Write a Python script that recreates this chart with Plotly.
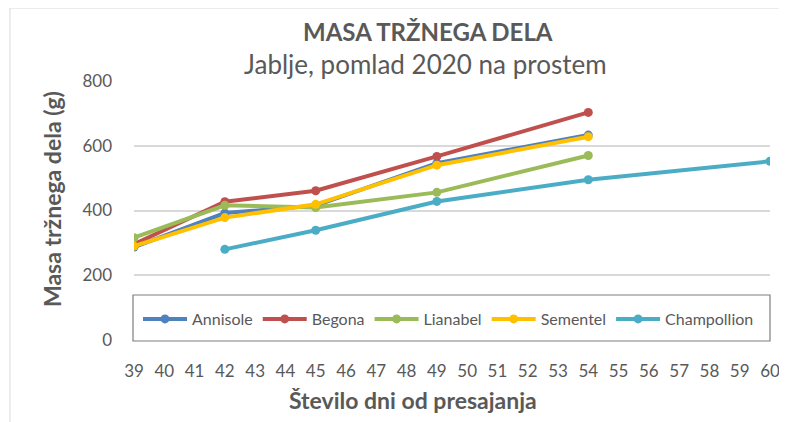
import plotly.graph_objects as go

days_main = [39, 42, 45, 49, 54]
days_champ = [42, 45, 49, 54, 60]
annisole = [287, 392, 415, 546, 633]
begona = [296, 427, 461, 567, 703]
lianabel = [316, 416, 409, 456, 570]
sementel = [290, 378, 419, 540, 628]
champollion = [280, 339, 428, 495, 552]

series = [
    ("Annisole", days_main, annisole, "#4F81BD"),
    ("Begona", days_main, begona, "#C0504D"),
    ("Lianabel", days_main, lianabel, "#9BBB59"),
    ("Sementel", days_main, sementel, "#FFC000"),
    ("Champollion", days_champ, champollion, "#4BACC6"),
]

FONT = "Lato"
TXT = "#595959"
# page is drawn with an 8px body offset; figure coordinates below
PL, PR, PT, PB = 126, 762, 73, 332
W, H = 779, 414


def px(fx):
    return (fx - PL) / (PR - PL)


def py(fy):
    return (PB - fy) / (PB - PT)


fig = go.Figure()
for name, xs, ys, col in series:
    fig.add_trace(go.Scatter(x=xs, y=ys, name=name, mode="lines+markers",
                             line=dict(color=col, width=4),
                             marker=dict(color=col, size=9)))

fig.update_layout(
    width=W, height=H,
    margin=dict(l=PL, r=W - PR, t=PT, b=H - PB),
    paper_bgcolor="white", plot_bgcolor="white",
    font=dict(family=FONT, color=TXT, size=16),
    showlegend=True,
    legend=dict(orientation="h", x=px(130), y=py(294), xanchor="left", yanchor="top",
                borderwidth=0, bgcolor="rgba(0,0,0,0)",
                font=dict(size=16, color=TXT),
                itemwidth=44, tracegroupgap=0),
    xaxis=dict(range=[39, 60], tickmode="linear", tick0=39, dtick=1,
               showgrid=False, zeroline=False, showline=False,
               ticks="", ticklabelstandoff=19, automargin=False,
               tickfont=dict(size=17, color=TXT)),
    yaxis=dict(range=[0, 800], tickmode="linear", tick0=0, dtick=200,
               showgrid=True, gridcolor="#D9D9D9", gridwidth=1.5,
               zeroline=False, showline=False, ticks="",
               ticklabelstandoff=21, automargin=False,
               tickfont=dict(size=17, color=TXT)),
    annotations=[
        dict(text="<b>MASA TRŽNEGA DELA</b>", xref="paper", yref="paper",
             x=px(420), y=py(24), xanchor="center", yanchor="middle",
             showarrow=False, font=dict(size=24, color=TXT, family=FONT)),
        dict(text="Jablje, pomlad 2020 na prostem", xref="paper", yref="paper",
             x=px(417), y=py(56), xanchor="center", yanchor="middle",
             showarrow=False, font=dict(size=26, color=TXT, family=FONT)),
        dict(text="<b>Število dni od presajanja</b>", xref="paper", yref="paper",
             x=px(405), y=py(392), xanchor="center", yanchor="middle",
             showarrow=False, font=dict(size=23, color=TXT, family=FONT)),
        dict(text="<b>Masa tržnega dela (g)</b>", xref="paper", yref="paper",
             x=px(44), y=py(191), xanchor="center", yanchor="middle",
             textangle=-90, showarrow=False,
             font=dict(size=23, color=TXT, family=FONT)),
    ],
    shapes=[
        dict(type="rect", xref="paper", yref="paper",
             x0=px(2), x1=px(800), y0=py(420), y1=py(0),
             line=dict(color="#D9D9D9", width=1), layer="below"),
        dict(type="rect", xref="paper", yref="paper",
             x0=px(125), x1=px(762), y0=py(333), y1=py(287),
             line=dict(color="#7F7F7F", width=1.2), fillcolor="white",
             layer="above"),
    ],
)

fig.write_html("out.html")
